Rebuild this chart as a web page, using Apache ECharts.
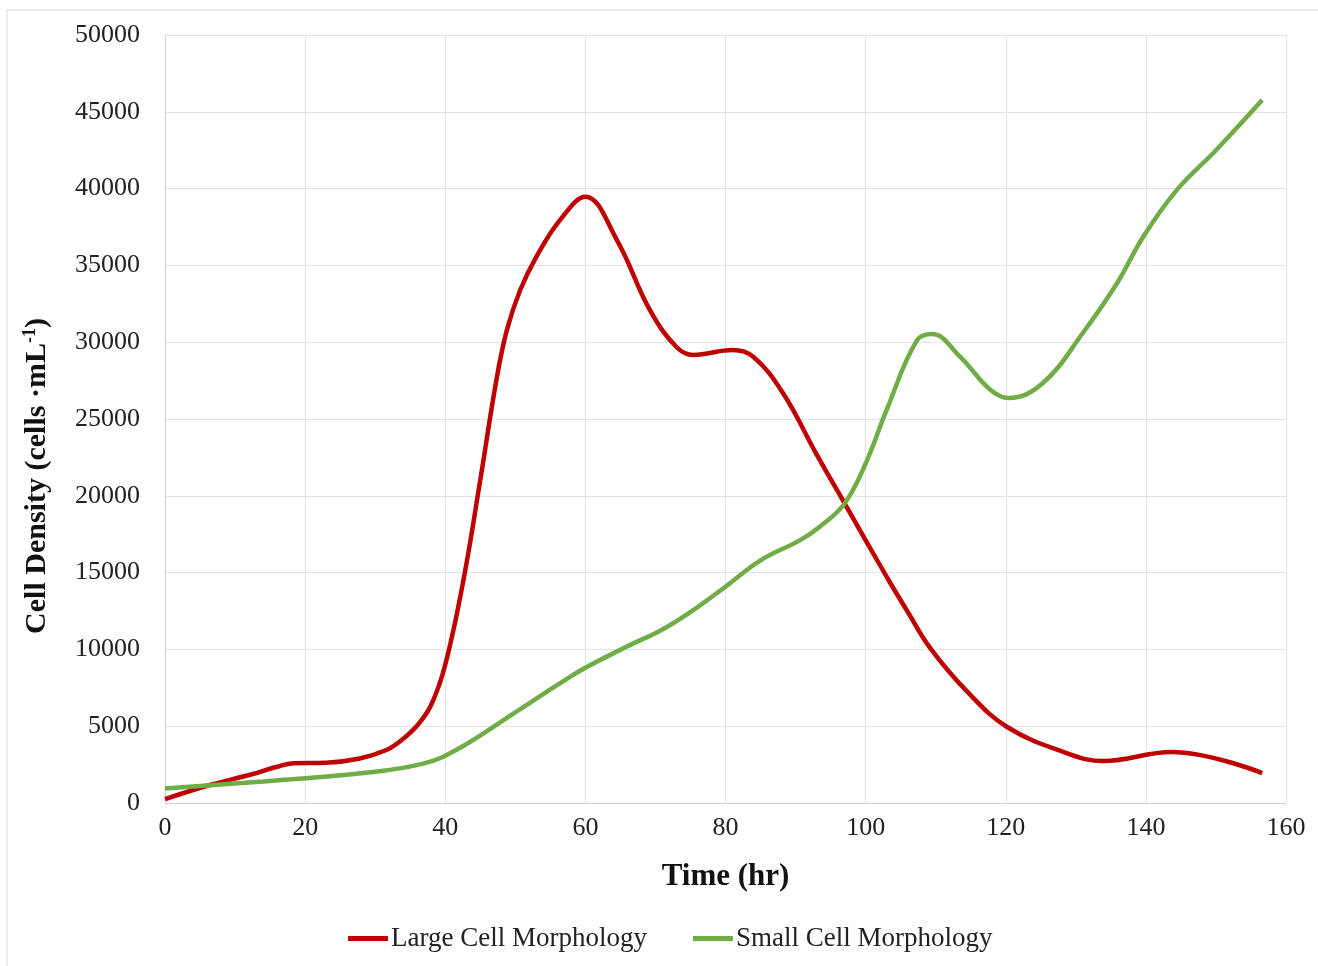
<!DOCTYPE html>
<html><head><meta charset="utf-8">
<script src="https://cdn.jsdelivr.net/npm/echarts@6/dist/echarts.min.js"></script>
<style>html,body{margin:0;padding:0;background:#fff}#c{width:1318px;height:966px}</style>
</head><body><div id="c"></div>
<script>
const seriesNames = ['Large Cell Morphology', 'Small Cell Morphology'];
const largeTime = [0, 6.4, 12, 16, 18.3, 23, 27.8, 31.6, 33.5, 36, 38, 40, 42.6, 45, 47.3, 48.8, 50.7, 53, 56.4, 60, 64.5, 69.2, 73, 75.4, 81, 84, 88.2, 93, 97, 103, 106, 109.2, 114.4, 120.2, 128.7, 133.9, 143.7, 156.6];
const largeVals = [250, 1170, 1820, 2360, 2580, 2620, 2900, 3450, 4000, 5050, 6400, 9000, 14520, 21030, 27540, 30800, 33400, 35560, 37960, 39470, 36650, 32100, 29690, 29170, 29490, 29040, 26690, 22700, 19510, 14730, 12450, 10100, 7300, 4950, 3250, 2730, 3320, 1950];
const smallTime = [0, 14, 28, 37, 42, 50, 56.4, 60, 66, 71, 75.4, 80, 85, 90.6, 93.5, 97, 100, 103, 107.3, 109.5, 113.5, 117.8, 120.4, 125.3, 131, 135.9, 139.6, 144.4, 150, 156.6];
const smallVals = [950, 1400, 1930, 2580, 3560, 5900, 7800, 8800, 10200, 11300, 12560, 14080, 15800, 17100, 18000, 19500, 22100, 25600, 30100, 30530, 29040, 26900, 26370, 27340, 30600, 33850, 36850, 39900, 42500, 45770];
const yTicks = ['0', '5000', '10000', '15000', '20000', '25000', '30000', '35000', '40000', '45000', '50000'];
const yTitle = ['Cell Density (cells ·mL', '-1', ')'];

const pair = (t, v) => t.map((x, i) => [x, v[i]]);
const font = '"Liberation Serif", "Times New Roman", serif';
const chart = echarts.init(document.getElementById('c'));
chart.setOption({
  animation: false,
  textStyle: { fontFamily: font },
  graphic: [
    { type: 'rect', shape: { x: 7, y: 10, width: 1320, height: 970 }, style: { fill: 'none', stroke: '#d9d9d9', lineWidth: 1 }, silent: true },
    { type: 'text', x: 37, y: 476, rotation: Math.PI / 2, silent: true,
      style: {
        text: '{a|' + yTitle[0] + '}{s|' + yTitle[1] + '}{a|' + yTitle[2] + '}',
        align: 'center', verticalAlign: 'middle',
        rich: {
          a: { fontFamily: font, fontSize: 30, fontWeight: 'bold', fill: '#111' },
          s: { fontFamily: font, fontSize: 18, fontWeight: 'bold', fill: '#111', verticalAlign: 'top', padding: [0, 0, 14, 0] }
        }
      } }
  ],
  grid: { left: 165, right: 32, top: 35, bottom: 163 },
  legend: {
    bottom: 9, left: 343, itemGap: 46, itemWidth: 40, itemHeight: 5, icon: 'rect',
    textStyle: { fontFamily: font, fontSize: 27, color: '#222', padding: [0, 0, 0, -2] },
    data: seriesNames
  },
  xAxis: {
    type: 'value', min: 0, max: 160, interval: 20,
    name: 'Time (hr)', nameLocation: 'middle', nameGap: 58,
    nameTextStyle: { fontFamily: font, fontSize: 31, fontWeight: 'bold', color: '#111' },
    axisLine: { show: true, lineStyle: { color: '#d0d0d0', width: 1 } },
    axisTick: { show: false },
    axisLabel: { fontFamily: font, fontSize: 26, color: '#222', margin: 12 },
    splitLine: { show: true, lineStyle: { color: '#e3e3e3', width: 1 } }
  },
  yAxis: {
    type: 'value', min: 0, max: 50000, interval: 5000,
    axisLine: { show: true, lineStyle: { color: '#d0d0d0', width: 1 } },
    axisTick: { show: false },
    axisLabel: { fontFamily: font, fontSize: 26, color: '#222', margin: 25, formatter: (v) => yTicks[Math.round(v / 5000)] },
    splitLine: { show: true, lineStyle: { color: '#e3e3e3', width: 1 } }
  },
  series: [
    { name: seriesNames[0], type: 'line', smooth: 0.4, showSymbol: false, symbol: 'none', color: '#c00000',
      lineStyle: { width: 4.5, color: '#c00000' }, data: pair(largeTime, largeVals) },
    { name: seriesNames[1], type: 'line', smooth: 0.4, showSymbol: false, symbol: 'none', color: '#70ad47',
      lineStyle: { width: 4.5, color: '#70ad47' }, data: pair(smallTime, smallVals) }
  ]
});
</script></body></html>
